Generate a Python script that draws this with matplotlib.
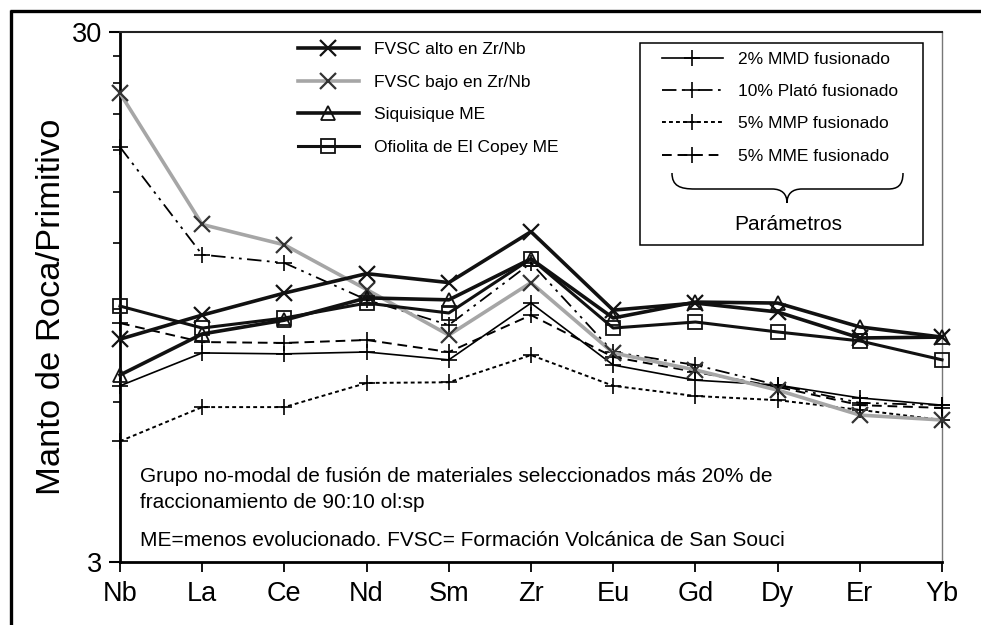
import numpy as np
import matplotlib.pyplot as plt
import matplotlib.patches as mpatches
from matplotlib.path import Path
from matplotlib.ticker import FixedLocator, NullFormatter

plt.rcParams['font.family'] = ['Liberation Sans', 'DejaVu Sans']

W, H = 981, 625  # output size in px

# ---- data ----
elements = ['Nb', 'La', 'Ce', 'Nd', 'Sm', 'Zr', 'Eu', 'Gd', 'Dy', 'Er', 'Yb']
fvsc_alto = [7.90, 8.77, 9.65, 10.5, 10.1, 12.6, 8.96, 9.24, 8.89, 7.94, 7.97]
fvsc_bajo = [23.0, 13.0, 11.9, 9.80, 8.04, 10.1, 7.44, 6.91, 6.33, 5.68, 5.56]
siquisique = [6.76, 8.08, 8.58, 9.45, 9.37, 11.2, 8.66, 9.28, 9.24, 8.33, 7.97]
ofiolita = [9.12, 8.29, 8.66, 9.24, 8.85, 11.2, 8.29, 8.51, 8.15, 7.84, 7.22]
mmd_2 = [6.45, 7.44, 7.41, 7.47, 7.22, 9.24, 7.06, 6.61, 6.47, 6.12, 5.93]
plato_10 = [18.2, 11.4, 11.0, 9.37, 8.40, 11.0, 7.47, 7.06, 6.47, 5.99, 5.93]
mmp_5 = [5.07, 5.88, 5.88, 6.53, 6.55, 7.37, 6.45, 6.17, 6.06, 5.81, 5.56]
mme_5 = [8.47, 7.80, 7.77, 7.87, 7.47, 8.77, 7.31, 6.85, 6.42, 5.93, 5.86]

ytick_major = [3, 30]
ytick_minor = [6, 9, 12, 15, 18, 21, 24, 27]

fig = plt.figure(figsize=(W / 100, H / 100), dpi=100)
ax = fig.add_axes([120 / W, 1 - 562 / H, 822 / W, 530 / H])
x = np.arange(len(elements))

# model curves (thin, + markers)
pk = dict(color='black', marker='+', ms=12, mew=1.2, clip_on=False, zorder=3)
l5, = ax.plot(x, mmd_2, lw=1.2, ls='-', label='2% MMD fusionado', **pk)
l6, = ax.plot(x, plato_10, lw=1.3, ls=(0, (8, 3, 1.5, 3, 1.5, 3)), label='10% Plató fusionado', **pk)
l7, = ax.plot(x, mmp_5, lw=1.4, ls=(0, (2, 1.6)), label='5% MMP fusionado', **pk)
l8, = ax.plot(x, mme_5, lw=1.4, ls=(0, (5, 3)), label='5% MME fusionado', **pk)

# samples
l2, = ax.plot(x, fvsc_bajo, color='#a6a6a6', lw=2.6, marker='x', ms=11, mew=1.6,
              mec='#333333', clip_on=False, zorder=4, label='FVSC bajo en Zr/Nb')
l1, = ax.plot(x, fvsc_alto, color='#111111', lw=2.6, marker='x', ms=11, mew=1.6,
              clip_on=False, zorder=5, label='FVSC alto en Zr/Nb')
l3, = ax.plot(x, siquisique, color='#111111', lw=2.6, marker='^', ms=10, mew=1.3,
              mfc='none', clip_on=False, zorder=5, label='Siquisique ME')
l4, = ax.plot(x, ofiolita, color='#111111', lw=2.2, marker='s', ms=10, mew=1.3,
              mfc='none', clip_on=False, zorder=5, label='Ofiolita de El Copey ME')

ax.set_yscale('log')
ax.set_ylim(3, 30)
ax.set_xlim(0, len(elements) - 1)
ax.yaxis.set_major_locator(FixedLocator(ytick_major))
ax.yaxis.set_minor_locator(FixedLocator(ytick_minor))
ax.set_yticklabels([str(v) for v in ytick_major])
ax.yaxis.set_minor_formatter(NullFormatter())
ax.set_xticks(x)
ax.set_xticklabels(elements)
ax.tick_params(axis='y', which='major', length=8, width=1.5, labelsize=19.5, pad=5)
ax.tick_params(axis='y', which='minor', length=5, width=1.2)
ax.tick_params(axis='x', length=7, width=1.3, labelsize=19.5, pad=7)

for s in ['left', 'bottom']:
    ax.spines[s].set_linewidth(2)
ax.spines['top'].set_linewidth(1.5)
ax.spines['top'].set_color('#222222')
ax.spines['right'].set_linewidth(1.0)
ax.spines['right'].set_color('#777777')

fig.text(52 / W, 1 - 307 / H, 'Manto de Roca/Primitivo', rotation=90,
         ha='center', va='center', fontsize=24.8)

fs_leg = 12.5
leg1 = ax.legend(handles=[l1, l2, l3, l4], loc='upper left', frameon=False,
                 bbox_to_anchor=(298 / W, 1 - 42 / H), bbox_transform=fig.transFigure,
                 fontsize=fs_leg, handlelength=3.5, handletextpad=0.85,
                 labelspacing=1.0, borderpad=0, borderaxespad=0, numpoints=1)
ax.add_artist(leg1)
leg2 = ax.legend(handles=[l5, l6, l7, l8], loc='upper left', frameon=False,
                 bbox_to_anchor=(662 / W, 1 - 52 / H), bbox_transform=fig.transFigure,
                 fontsize=fs_leg, handlelength=3.5, handletextpad=0.9,
                 labelspacing=0.98, borderpad=0, borderaxespad=0, numpoints=1)

fs_txt = 15
ax.text(140 / W, 1 - 477 / H, 'Grupo no-modal de fusión de materiales seleccionados más 20% de',
        transform=fig.transFigure, fontsize=fs_txt, va='center')
ax.text(140 / W, 1 - 503 / H, 'fraccionamiento de 90:10 ol:sp',
        transform=fig.transFigure, fontsize=fs_txt, va='center')
ax.text(140 / W, 1 - 541 / H, 'ME=menos evolucionado. FVSC= Formación Volcánica de San Souci',
        transform=fig.transFigure, fontsize=fs_txt, va='center')

# overlay in pixel coords for frame, parameter box and brace
ov = fig.add_axes([0, 0, 1, 1])
ov.set_xlim(0, W)
ov.set_ylim(H, 0)
ov.axis('off')
ov.plot([10, W], [11, 11], color='black', lw=2.4, solid_capstyle='butt')
ov.plot([11, 11], [10, H], color='black', lw=2.4, solid_capstyle='butt')
ov.add_patch(mpatches.Rectangle((640, 43), 283, 202, fill=False, ec='black', lw=1.1))
verts = [(672, 173), (672, 186), (680, 189), (695, 189),
         (772, 189),
         (782, 189), (787, 194), (787, 203),
         (787, 194), (792, 189), (802, 189),
         (888, 189),
         (897, 189), (903, 186), (903, 173)]
codes = [Path.MOVETO, Path.CURVE4, Path.CURVE4, Path.CURVE4,
         Path.LINETO,
         Path.CURVE4, Path.CURVE4, Path.CURVE4,
         Path.CURVE4, Path.CURVE4, Path.CURVE4,
         Path.LINETO,
         Path.CURVE4, Path.CURVE4, Path.CURVE4]
ov.add_patch(mpatches.PathPatch(Path(verts, codes), fill=False, ec='black', lw=1.1))
ov.text(788, 224, 'Parámetros', ha='center', va='center', fontsize=fs_txt)

fig.savefig('out.png', dpi=100)
